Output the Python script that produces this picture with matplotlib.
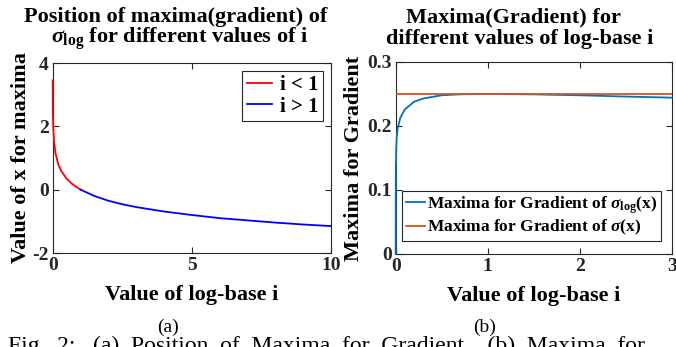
import matplotlib
matplotlib.use("Agg")
import matplotlib.pyplot as plt

plt.rcParams['font.family'] = ['Liberation Serif', 'DejaVu Serif']
plt.rcParams['font.weight'] = 'bold'
plt.rcParams['mathtext.fontset'] = 'custom'
plt.rcParams['mathtext.rm'] = 'Liberation Serif'
plt.rcParams['mathtext.it'] = 'Liberation Serif:italic'
plt.rcParams['mathtext.bf'] = 'Liberation Serif:bold'
plt.rcParams['axes.unicode_minus'] = False

# ---- data ----
base_lt1 = [0.001, 0.002, 0.005, 0.01, 0.02, 0.05, 0.1, 0.2, 0.3, 0.5, 0.7, 1.0]
xmax_lt1 = [3.45, 3.11, 2.65, 2.30, 1.96, 1.50, 1.15, 0.80, 0.60, 0.35, 0.18, 0.0]
base_gt1 = [1.0, 1.5, 2.0, 2.5, 3.0, 4.0, 5.0, 6.0, 7.0, 8.0, 9.0, 10.0]
xmax_gt1 = [0.0, -0.20, -0.35, -0.46, -0.55, -0.69, -0.80, -0.90, -0.97, -1.04, -1.10, -1.15]

base_b = [0, 0.0005, 0.001, 0.002, 0.005, 0.01, 0.02, 0.05, 0.1, 0.2, 0.3, 0.5, 0.7,
          1.0, 1.5, 2.0, 2.5, 3.0]
grad_log = [0, 0.08, 0.11, 0.135, 0.16, 0.18, 0.195, 0.213, 0.226, 0.238, 0.243, 0.248,
            0.2495, 0.25, 0.2494, 0.248, 0.246, 0.2443]
base_sig = [0, 3]
grad_sig = [0.25, 0.25]

W, H = 676, 347
fig = plt.figure(figsize=(W / 100, H / 100), dpi=100)

def px_axes(l, r, t, b):
    return fig.add_axes([l / W, (H - b) / H, (r - l) / W, (b - t) / H])

spine_c = '#262626'
fs_tick = 14
fs_lab = 16

def style(ax):
    for s in ax.spines.values():
        s.set_color(spine_c)
        s.set_linewidth(0.8)
    ax.tick_params(direction='in', top=True, right=True, length=4, width=0.8,
                   colors=spine_c, labelsize=fs_tick, labelcolor='#262626', pad=3)
    for lab in ax.get_xticklabels() + ax.get_yticklabels():
        lab.set_fontweight('bold')

# ---- left panel ----
ax1 = px_axes(52.7, 331, 63, 253)
ax1.plot(base_lt1, xmax_lt1, color='red', lw=1.3, label='i < 1', zorder=3, clip_on=False)
ax1.plot(base_gt1, xmax_gt1, color='blue', lw=1.3, label='i > 1', zorder=3)
ax1.set_xlim(0, 10)
ax1.set_ylim(-2, 4)
ax1.set_xticks([0, 5, 10])
ax1.set_yticks([-2, 0, 2, 4])
style(ax1)
ax1.set_xlabel('Value of log-base i', fontsize=fs_lab, fontweight='bold', labelpad=8)
ax1.set_ylabel('Value of x for maxima', fontsize=fs_lab, fontweight='bold', labelpad=1)
leg1 = ax1.legend(loc='upper right', prop={'weight': 'bold', 'size': 15},
                  handlelength=1.2, handletextpad=0.4, borderpad=0.2, labelspacing=0.05,
                  fancybox=False, framealpha=1, edgecolor='#262626', borderaxespad=0.4)
leg1.get_frame().set_linewidth(0.8)

# ---- right panel ----
ax2 = px_axes(395.7, 671.7, 62, 254)
ax2.plot(base_b, grad_log, color='#0072BD', lw=1.3, zorder=3, clip_on=False,
         label='Maxima for Gradient of $\\sigma_{\\mathbf{log}}$(x)')
ax2.plot(base_sig, grad_sig, color='#D95319', lw=1.3, zorder=3,
         label='Maxima for Gradient of $\\sigma$(x)')
ax2.set_xlim(0, 3)
ax2.set_ylim(0, 0.3)
ax2.set_xticks([0, 1, 2, 3])
ax2.set_yticks([0, 0.1, 0.2, 0.3])
ax2.set_yticklabels(['0', '0.1', '0.2', '0.3'])
style(ax2)
ax2.set_xlabel('Value of log-base i', fontsize=fs_lab, fontweight='bold', labelpad=8)
ax2.set_ylabel('Maxima for Gradient', fontsize=fs_lab, fontweight='bold', labelpad=2)
leg2 = ax2.legend(loc='lower left', prop={'weight': 'bold', 'size': 12.5},
                  handlelength=1.1, handletextpad=0.15, borderpad=0.2, labelspacing=0.15,
                  fancybox=False, framealpha=1, edgecolor='#262626',
                  bbox_to_anchor=(0.023, 0.068), borderaxespad=0)
leg2.get_frame().set_linewidth(0.8)

# ---- titles ----
fig.text(176 / W, 1 - 17 / H, 'Position of maxima(gradient) of', ha='center', va='center',
         fontsize=16, fontweight='bold')
fig.text(180 / W, 1 - 39 / H, '$\\sigma_{\\mathbf{log}}$ for different values of i',
         ha='center', va='center', fontsize=16, fontweight='bold')
fig.text(513 / W, 1 - 17 / H, 'Maxima(Gradient) for', ha='center', va='center',
         fontsize=16, fontweight='bold')
fig.text(520 / W, 1 - 39 / H, 'different values of log-base i', ha='center', va='center',
         fontsize=16, fontweight='bold')

# ---- sub-captions ----
fig.text(168 / W, 1 - 327 / H, '(a)', ha='center', va='center', fontsize=14,
         fontweight='normal')
fig.text(485 / W, 1 - 327 / H, '(b)', ha='center', va='center', fontsize=14,
         fontweight='normal')
fig.text(8 / W, 1 - 336 / H,
         'Fig.  2:   (a)  Position  of  Maxima  for  Gradient,   (b)  Maxima  for',
         ha='left', va='top', fontsize=17, fontweight='normal')

fig.savefig('out.png', dpi=100)
